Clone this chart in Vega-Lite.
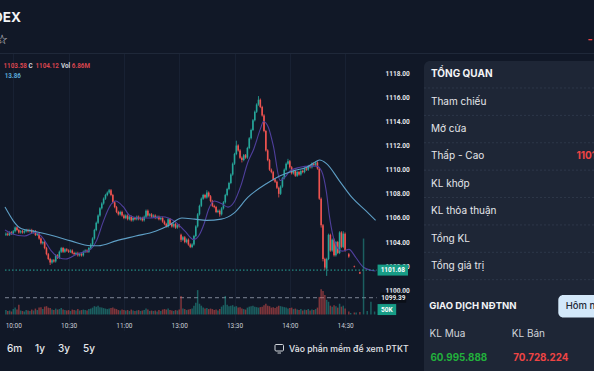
{
"$schema":"https://vega.github.io/schema/vega-lite/v6.json",
"width":594,"height":371,"autosize":{"type":"none"},"padding":0,"background":"#111827",
"config":{"view":{"stroke":null},"axis":{"labelFont":"Roboto","domain":false,"ticks":false},"text":{"font":"Inter"}},
"datasets":{
"candles":[
{"p":56,"o":1104.6,"c":1104.7,"h":1104.8,"l":1104.5,"v":45},
{"p":57,"o":1104.7,"c":1104.6,"h":1104.8,"l":1104.5,"v":35},
{"p":58,"o":1104.6,"c":1104.8,"h":1104.9,"l":1104.5,"v":40},
{"p":59,"o":1104.8,"c":1104.7,"h":1104.9,"l":1104.6,"v":30},
{"p":60,"o":1104.7,"c":1104.9,"h":1105.0,"l":1104.6,"v":55},
{"p":61,"o":1104.9,"c":1105.2,"h":1105.3,"l":1104.8,"v":70},
{"p":62,"o":1105.2,"c":1105.0,"h":1105.3,"l":1104.9,"v":50},
{"p":63,"o":1105.0,"c":1104.8,"h":1105.1,"l":1104.7,"v":100},
{"p":64,"o":1104.8,"c":1104.9,"h":1105.0,"l":1104.7,"v":40},
{"p":65,"o":1104.9,"c":1104.8,"h":1105.0,"l":1104.7,"v":35},
{"p":66,"o":1104.8,"c":1104.9,"h":1105.0,"l":1104.7,"v":30},
{"p":67,"o":1104.9,"c":1105.0,"h":1105.1,"l":1104.8,"v":45},
{"p":68,"o":1105.0,"c":1104.9,"h":1105.1,"l":1104.8,"v":40},
{"p":69,"o":1104.9,"c":1105.0,"h":1105.1,"l":1104.8,"v":35},
{"p":70,"o":1105.0,"c":1104.8,"h":1105.1,"l":1104.7,"v":50},
{"p":71,"o":1104.8,"c":1104.9,"h":1105.0,"l":1104.7,"v":40},
{"p":72,"o":1104.9,"c":1104.6,"h":1105.0,"l":1104.5,"v":60},
{"p":73,"o":1104.6,"c":1104.7,"h":1104.8,"l":1104.5,"v":45},
{"p":74,"o":1104.7,"c":1104.3,"h":1104.8,"l":1104.2,"v":70},
{"p":75,"o":1104.3,"c":1103.9,"h":1104.4,"l":1103.8,"v":75},
{"p":76,"o":1103.9,"c":1104.0,"h":1104.1,"l":1103.8,"v":55},
{"p":77,"o":1104.0,"c":1103.5,"h":1104.1,"l":1103.4,"v":80},
{"p":78,"o":1103.5,"c":1103.0,"h":1103.6,"l":1102.9,"v":85},
{"p":79,"o":1103.0,"c":1102.6,"h":1103.1,"l":1102.5,"v":70},
{"p":80,"o":1102.6,"c":1102.3,"h":1102.7,"l":1102.1,"v":65},
{"p":81,"o":1102.3,"c":1102.5,"h":1102.6,"l":1102.2,"v":50},
{"p":82,"o":1102.5,"c":1102.4,"h":1102.6,"l":1102.3,"v":45},
{"p":83,"o":1102.4,"c":1102.9,"h":1103.0,"l":1102.3,"v":60},
{"p":84,"o":1102.9,"c":1102.7,"h":1103.0,"l":1102.6,"v":50},
{"p":85,"o":1102.7,"c":1103.2,"h":1103.3,"l":1102.6,"v":55},
{"p":86,"o":1103.2,"c":1103.5,"h":1103.6,"l":1103.1,"v":65},
{"p":87,"o":1103.5,"c":1103.2,"h":1103.6,"l":1103.1,"v":50},
{"p":88,"o":1103.2,"c":1103.4,"h":1103.5,"l":1103.1,"v":45},
{"p":89,"o":1103.4,"c":1103.3,"h":1103.5,"l":1103.2,"v":40},
{"p":90,"o":1103.3,"c":1103.2,"h":1103.4,"l":1103.1,"v":45},
{"p":91,"o":1103.2,"c":1103.3,"h":1103.4,"l":1103.1,"v":35},
{"p":92,"o":1103.3,"c":1103.1,"h":1103.4,"l":1103.0,"v":50},
{"p":93,"o":1103.1,"c":1103.0,"h":1103.2,"l":1102.9,"v":45},
{"p":94,"o":1103.0,"c":1103.1,"h":1103.2,"l":1102.9,"v":40},
{"p":95,"o":1103.1,"c":1102.9,"h":1103.2,"l":1102.8,"v":55},
{"p":96,"o":1102.9,"c":1103.0,"h":1103.1,"l":1102.8,"v":40},
{"p":97,"o":1103.0,"c":1102.9,"h":1103.1,"l":1102.8,"v":45},
{"p":98,"o":1102.9,"c":1103.2,"h":1103.3,"l":1102.8,"v":50},
{"p":99,"o":1103.2,"c":1103.3,"h":1103.4,"l":1103.1,"v":45},
{"p":100,"o":1103.3,"c":1103.2,"h":1103.4,"l":1103.1,"v":40},
{"p":101,"o":1103.2,"c":1103.5,"h":1103.6,"l":1103.1,"v":55},
{"p":102,"o":1103.5,"c":1103.8,"h":1103.9,"l":1103.4,"v":60},
{"p":103,"o":1103.8,"c":1104.3,"h":1104.4,"l":1103.7,"v":70},
{"p":104,"o":1104.3,"c":1105.0,"h":1105.1,"l":1104.2,"v":85},
{"p":105,"o":1105.0,"c":1105.6,"h":1105.7,"l":1104.9,"v":80},
{"p":106,"o":1105.6,"c":1106.2,"h":1106.3,"l":1105.5,"v":90},
{"p":107,"o":1106.2,"c":1106.8,"h":1106.9,"l":1106.1,"v":75},
{"p":108,"o":1106.8,"c":1107.2,"h":1107.3,"l":1106.7,"v":70},
{"p":109,"o":1107.2,"c":1107.6,"h":1107.7,"l":1107.1,"v":65},
{"p":110,"o":1107.6,"c":1107.9,"h":1108.0,"l":1107.5,"v":60},
{"p":111,"o":1107.9,"c":1108.1,"h":1108.2,"l":1107.8,"v":55},
{"p":112,"o":1108.1,"c":1108.3,"h":1108.4,"l":1108.0,"v":60},
{"p":113,"o":1108.3,"c":1107.9,"h":1108.4,"l":1107.8,"v":65},
{"p":114,"o":1107.9,"c":1107.3,"h":1108.0,"l":1107.2,"v":70},
{"p":115,"o":1107.3,"c":1106.9,"h":1107.4,"l":1106.8,"v":60},
{"p":116,"o":1106.9,"c":1106.5,"h":1107.0,"l":1106.4,"v":55},
{"p":117,"o":1106.5,"c":1106.3,"h":1106.6,"l":1106.2,"v":45},
{"p":118,"o":1106.3,"c":1106.5,"h":1106.6,"l":1106.2,"v":40},
{"p":119,"o":1106.5,"c":1106.2,"h":1106.6,"l":1106.1,"v":50},
{"p":120,"o":1106.2,"c":1106.0,"h":1106.3,"l":1105.9,"v":45},
{"p":121,"o":1106.0,"c":1106.2,"h":1106.3,"l":1105.9,"v":40},
{"p":122,"o":1106.2,"c":1105.9,"h":1106.3,"l":1105.8,"v":45},
{"p":123,"o":1105.9,"c":1106.1,"h":1106.2,"l":1105.8,"v":35},
{"p":124,"o":1106.1,"c":1105.8,"h":1106.2,"l":1105.7,"v":50},
{"p":125,"o":1105.8,"c":1106.0,"h":1106.1,"l":1105.7,"v":40},
{"p":126,"o":1106.0,"c":1105.9,"h":1106.1,"l":1105.8,"v":35},
{"p":127,"o":1105.9,"c":1106.1,"h":1106.2,"l":1105.8,"v":40},
{"p":128,"o":1106.1,"c":1105.9,"h":1106.2,"l":1105.8,"v":45},
{"p":129,"o":1105.9,"c":1106.0,"h":1106.1,"l":1105.8,"v":35},
{"p":130,"o":1106.0,"c":1105.8,"h":1106.1,"l":1105.7,"v":40},
{"p":131,"o":1105.8,"c":1106.1,"h":1106.2,"l":1105.7,"v":45},
{"p":132,"o":1106.1,"c":1106.6,"h":1106.7,"l":1106.0,"v":60},
{"p":133,"o":1106.6,"c":1106.2,"h":1106.7,"l":1106.1,"v":50},
{"p":134,"o":1106.2,"c":1106.3,"h":1106.4,"l":1106.1,"v":35},
{"p":135,"o":1106.3,"c":1106.1,"h":1106.4,"l":1106.0,"v":40},
{"p":136,"o":1106.1,"c":1106.2,"h":1106.3,"l":1106.0,"v":35},
{"p":137,"o":1106.2,"c":1106.0,"h":1106.3,"l":1105.9,"v":40},
{"p":138,"o":1106.0,"c":1106.1,"h":1106.2,"l":1105.9,"v":30},
{"p":139,"o":1106.1,"c":1105.9,"h":1106.2,"l":1105.8,"v":45},
{"p":140,"o":1105.9,"c":1106.0,"h":1106.1,"l":1105.8,"v":35},
{"p":141,"o":1106.0,"c":1105.7,"h":1106.1,"l":1105.6,"v":50},
{"p":142,"o":1105.7,"c":1105.5,"h":1105.8,"l":1105.4,"v":55},
{"p":143,"o":1105.5,"c":1105.3,"h":1105.6,"l":1105.2,"v":50},
{"p":144,"o":1105.3,"c":1105.9,"h":1106.0,"l":1105.2,"v":60},
{"p":145,"o":1105.9,"c":1105.5,"h":1106.0,"l":1105.4,"v":45},
{"p":146,"o":1105.5,"c":1105.3,"h":1105.6,"l":1105.2,"v":40},
{"p":147,"o":1105.3,"c":1105.5,"h":1105.6,"l":1105.2,"v":35},
{"p":148,"o":1105.5,"c":1105.2,"h":1105.6,"l":1105.1,"v":45},
{"p":149,"o":1105.2,"c":1105.4,"h":1105.5,"l":1105.1,"v":40},
{"p":150,"o":1105.4,"c":1105.3,"h":1105.5,"l":1105.2,"v":50},
{"p":151,"o":1104.6,"c":1104.2,"h":1104.7,"l":1104.0,"v":190},
{"p":152,"o":1104.2,"c":1104.4,"h":1104.5,"l":1104.1,"v":60},
{"p":153,"o":1104.4,"c":1104.0,"h":1104.5,"l":1103.9,"v":55},
{"p":154,"o":1104.0,"c":1104.2,"h":1104.3,"l":1103.9,"v":45},
{"p":155,"o":1104.2,"c":1103.8,"h":1104.3,"l":1103.7,"v":50},
{"p":156,"o":1103.8,"c":1103.6,"h":1103.9,"l":1103.5,"v":55},
{"p":157,"o":1103.6,"c":1103.8,"h":1103.9,"l":1103.5,"v":60},
{"p":158,"o":1103.8,"c":1104.5,"h":1104.6,"l":1103.7,"v":90},
{"p":159,"o":1104.5,"c":1105.3,"h":1105.4,"l":1104.4,"v":120},
{"p":160,"o":1105.3,"c":1106.3,"h":1106.4,"l":1105.2,"v":250},
{"p":161,"o":1106.3,"c":1107.0,"h":1107.1,"l":1106.2,"v":110},
{"p":162,"o":1107.0,"c":1107.6,"h":1107.7,"l":1106.9,"v":90},
{"p":163,"o":1107.6,"c":1107.9,"h":1108.0,"l":1107.5,"v":70},
{"p":164,"o":1107.9,"c":1107.7,"h":1108.0,"l":1107.6,"v":60},
{"p":165,"o":1107.7,"c":1108.1,"h":1108.3,"l":1107.6,"v":65},
{"p":166,"o":1108.1,"c":1107.8,"h":1108.2,"l":1107.7,"v":55},
{"p":167,"o":1107.8,"c":1107.4,"h":1107.9,"l":1107.3,"v":60},
{"p":168,"o":1107.4,"c":1107.0,"h":1107.5,"l":1106.9,"v":55},
{"p":169,"o":1107.0,"c":1106.9,"h":1107.1,"l":1106.8,"v":45},
{"p":170,"o":1106.9,"c":1106.5,"h":1107.0,"l":1106.4,"v":50},
{"p":171,"o":1106.5,"c":1106.6,"h":1106.7,"l":1106.4,"v":40},
{"p":172,"o":1106.6,"c":1106.3,"h":1106.7,"l":1106.1,"v":55},
{"p":173,"o":1106.3,"c":1106.8,"h":1106.9,"l":1106.2,"v":80},
{"p":174,"o":1106.8,"c":1107.3,"h":1107.4,"l":1106.7,"v":95},
{"p":175,"o":1107.3,"c":1107.9,"h":1108.0,"l":1107.2,"v":190},
{"p":176,"o":1107.9,"c":1108.4,"h":1108.5,"l":1107.8,"v":100},
{"p":177,"o":1108.4,"c":1108.9,"h":1109.0,"l":1108.3,"v":85},
{"p":178,"o":1108.9,"c":1109.6,"h":1109.7,"l":1108.8,"v":90},
{"p":179,"o":1109.6,"c":1110.5,"h":1110.6,"l":1109.5,"v":95},
{"p":180,"o":1110.5,"c":1111.3,"h":1111.4,"l":1110.4,"v":80},
{"p":181,"o":1111.3,"c":1112.0,"h":1112.4,"l":1111.2,"v":85},
{"p":182,"o":1112.0,"c":1111.6,"h":1112.1,"l":1111.5,"v":70},
{"p":183,"o":1111.6,"c":1111.0,"h":1111.7,"l":1110.9,"v":75},
{"p":184,"o":1111.0,"c":1110.8,"h":1111.1,"l":1110.6,"v":60},
{"p":185,"o":1110.8,"c":1111.2,"h":1111.3,"l":1110.7,"v":55},
{"p":186,"o":1111.2,"c":1111.0,"h":1111.3,"l":1110.9,"v":50},
{"p":187,"o":1111.0,"c":1111.8,"h":1111.9,"l":1110.9,"v":70},
{"p":188,"o":1111.8,"c":1112.6,"h":1112.7,"l":1111.7,"v":80},
{"p":189,"o":1112.6,"c":1113.3,"h":1113.4,"l":1112.5,"v":85},
{"p":190,"o":1113.3,"c":1114.1,"h":1114.2,"l":1113.2,"v":90},
{"p":191,"o":1114.1,"c":1114.8,"h":1114.9,"l":1114.0,"v":80},
{"p":192,"o":1114.8,"c":1115.4,"h":1115.5,"l":1114.7,"v":75},
{"p":193,"o":1115.4,"c":1115.8,"h":1116.1,"l":1115.3,"v":70},
{"p":194,"o":1115.8,"c":1115.2,"h":1115.9,"l":1115.1,"v":75},
{"p":195,"o":1115.2,"c":1114.5,"h":1115.3,"l":1114.4,"v":80},
{"p":196,"o":1114.5,"c":1113.2,"h":1114.6,"l":1113.1,"v":95},
{"p":197,"o":1113.2,"c":1111.6,"h":1113.3,"l":1111.5,"v":110},
{"p":198,"o":1111.6,"c":1110.8,"h":1111.7,"l":1110.7,"v":90},
{"p":199,"o":1110.8,"c":1110.0,"h":1110.9,"l":1109.9,"v":85},
{"p":200,"o":1110.0,"c":1109.8,"h":1110.1,"l":1109.7,"v":70},
{"p":201,"o":1109.8,"c":1109.2,"h":1109.9,"l":1109.1,"v":75},
{"p":202,"o":1109.2,"c":1109.0,"h":1109.3,"l":1108.9,"v":65},
{"p":203,"o":1109.0,"c":1108.5,"h":1109.1,"l":1108.4,"v":80},
{"p":204,"o":1108.5,"c":1108.0,"h":1108.6,"l":1107.7,"v":90},
{"p":205,"o":1108.0,"c":1108.6,"h":1108.7,"l":1107.9,"v":85},
{"p":206,"o":1108.6,"c":1109.3,"h":1109.4,"l":1108.5,"v":80},
{"p":207,"o":1109.3,"c":1110.0,"h":1110.1,"l":1109.2,"v":75},
{"p":208,"o":1110.0,"c":1110.5,"h":1110.6,"l":1109.9,"v":70},
{"p":209,"o":1110.5,"c":1110.7,"h":1110.9,"l":1110.4,"v":60},
{"p":210,"o":1110.7,"c":1110.2,"h":1110.8,"l":1110.1,"v":65},
{"p":211,"o":1110.2,"c":1109.7,"h":1110.3,"l":1109.6,"v":70},
{"p":212,"o":1109.7,"c":1109.9,"h":1110.0,"l":1109.6,"v":55},
{"p":213,"o":1109.9,"c":1109.5,"h":1110.0,"l":1109.4,"v":60},
{"p":214,"o":1109.5,"c":1109.8,"h":1109.9,"l":1109.4,"v":50},
{"p":215,"o":1109.8,"c":1109.6,"h":1109.9,"l":1109.5,"v":45},
{"p":216,"o":1109.6,"c":1109.9,"h":1110.0,"l":1109.5,"v":55},
{"p":217,"o":1109.9,"c":1109.8,"h":1110.0,"l":1109.7,"v":40},
{"p":218,"o":1109.8,"c":1110.1,"h":1110.2,"l":1109.7,"v":50},
{"p":219,"o":1110.1,"c":1110.0,"h":1110.2,"l":1109.9,"v":45},
{"p":220,"o":1110.0,"c":1110.3,"h":1110.4,"l":1109.9,"v":55},
{"p":221,"o":1110.3,"c":1110.2,"h":1110.4,"l":1110.1,"v":40},
{"p":222,"o":1110.2,"c":1110.5,"h":1110.6,"l":1110.1,"v":50},
{"p":223,"o":1110.5,"c":1110.4,"h":1110.6,"l":1110.3,"v":45},
{"p":224,"o":1110.4,"c":1110.6,"h":1110.7,"l":1110.3,"v":55},
{"p":225,"o":1110.6,"c":1110.1,"h":1110.7,"l":1110.0,"v":70},
{"p":226,"o":1110.1,"c":1107.6,"h":1110.2,"l":1107.5,"v":180},
{"p":227,"o":1107.6,"c":1105.4,"h":1107.7,"l":1105.2,"v":260},
{"p":228,"o":1105.4,"c":1102.6,"h":1105.5,"l":1102.4,"v":240},
{"p":229,"o":1102.6,"c":1101.9,"h":1102.7,"l":1101.7,"v":200},
{"p":230,"o":1101.8,"c":1102.6,"h":1102.7,"l":1101.2,"v":150},
{"p":231,"o":1102.6,"c":1104.6,"h":1104.7,"l":1102.5,"v":130},
{"p":232,"o":1104.6,"c":1103.3,"h":1104.7,"l":1103.2,"v":90},
{"p":233,"o":1103.3,"c":1104.2,"h":1104.3,"l":1103.2,"v":80},
{"p":234,"o":1104.2,"c":1102.9,"h":1104.3,"l":1102.8,"v":95},
{"p":235,"o":1102.9,"c":1104.0,"h":1104.1,"l":1102.8,"v":85},
{"p":236,"o":1104.0,"c":1103.1,"h":1104.1,"l":1103.0,"v":70},
{"p":237,"o":1103.1,"c":1104.8,"h":1104.9,"l":1103.0,"v":110},
{"p":238,"o":1104.8,"c":1103.6,"h":1104.9,"l":1103.5,"v":80},
{"p":239,"o":1103.6,"c":1104.7,"h":1104.9,"l":1103.5,"v":90},
{"p":240,"o":1104.7,"c":1103.3,"h":1104.8,"l":1103.2,"v":60},
{"p":242,"o":1103.0,"c":1102.8,"h":1103.1,"l":1102.7,"v":30},
{"p":243,"v":15},
{"p":245,"o":1102.0,"c":1101.95,"h":1102.05,"l":1101.9,"v":20},
{"p":246,"v":20},
{"p":248,"o":1101.5,"c":1101.4,"h":1101.55,"l":1101.35,"v":25},
{"p":250,"v":780},
{"p":252,"v":35},
{"p":254,"v":130},
{"p":256,"v":30}
],
"ma1":[
{"p":55.5,"m":1105.0},{"p":59.2,"m":1104.7},{"p":66.1,"m":1104.5},{"p":71.5,"m":1104.8},{"p":75.2,"m":1104.5},{"p":80.5,"m":1103.3},{"p":84.8,"m":1102.7},{"p":88.5,"m":1102.6},{"p":94.4,"m":1103.0},{"p":101.9,"m":1103.4},{"p":105.1,"m":1104.1},{"p":108.8,"m":1105.7},{"p":112.5,"m":1107.0},{"p":115.5,"m":1107.4},{"p":119.5,"m":1106.95},{"p":123.2,"m":1106.2},{"p":127.5,"m":1106.0},{"p":133.9,"m":1106.0},{"p":140.8,"m":1106.1},{"p":147.7,"m":1105.7},{"p":153.1,"m":1104.9},{"p":157.9,"m":1104.2},{"p":160.5,"m":1104.5},{"p":163.7,"m":1105.6},{"p":165.9,"m":1106.7},{"p":169.1,"m":1107.4},{"p":172.8,"m":1107.2},{"p":176.5,"m":1106.9},{"p":179.7,"m":1107.3},{"p":183.5,"m":1108.7},{"p":187.2,"m":1110.6},{"p":190.4,"m":1111.7},{"p":194.1,"m":1113.4},{"p":195.7,"m":1114.0},{"p":198.4,"m":1113.5},{"p":201.1,"m":1111.95},{"p":204.8,"m":1109.1},{"p":207.5,"m":1109.4},{"p":210.1,"m":1109.9},{"p":215.5,"m":1110.2},{"p":220.8,"m":1110.3},{"p":224.5,"m":1110.3},{"p":227.2,"m":1109.9},{"p":229.9,"m":1108.1},{"p":231.5,"m":1106.15},{"p":235.2,"m":1103.7},{"p":238.4,"m":1103.25},{"p":242.1,"m":1103.4},{"p":245.9,"m":1102.7},{"p":250.1,"m":1101.9},{"p":256.5,"m":1101.6}
],
"ma2":[
{"p":55.5,"m":1106.9},{"p":64.5,"m":1105.1},{"p":71.5,"m":1104.9},{"p":82.1,"m":1104.5},{"p":91.2,"m":1104.1},{"p":101.9,"m":1103.7},{"p":106.1,"m":1103.7},{"p":115.7,"m":1104.1},{"p":126.4,"m":1104.5},{"p":137.1,"m":1104.9},{"p":144.5,"m":1105.4},{"p":151.5,"m":1106.0},{"p":158.4,"m":1105.9},{"p":164.8,"m":1105.8},{"p":172.8,"m":1105.9},{"p":179.7,"m":1106.4},{"p":187.2,"m":1107.7},{"p":197.9,"m":1108.9},{"p":204.8,"m":1109.5},{"p":211.7,"m":1109.9},{"p":219.2,"m":1110.2},{"p":224.5,"m":1110.7},{"p":226.1,"m":1110.8},{"p":229.9,"m":1110.5},{"p":236.8,"m":1109.1},{"p":243.7,"m":1107.7},{"p":251.2,"m":1106.6},{"p":256.5,"m":1105.8}
],
"ov":[
{"k":"TỔNG QUAN"},{"k":"Tham chiếu"},{"k":"Mở cửa"},{"k":"Thấp - Cao","v":"1101.20 - 1116.10"},{"k":"KL khớp"},{"k":"KL thỏa thuận"},{"k":"Tổng KL"},{"k":"Tổng giá trị"}
]
},
"layer":[
{"layer":[
 {"layer":[
  {"data":{"name":"candles"},"transform":[{"filter":"isValid(datum.o)"}],"mark":{"type":"rule","strokeWidth":0.8},
   "encoding":{
    "x":{"field":"p","type":"quantitative","scale":{"domain":[55.5,372.3],"nice":false,"zero":false},"title":null,
     "axis":{"orient":"bottom","offset":-52,"values":[60,90,120,150,180,210,240],"labelExpr":"timeFormat(datetime(2024,0,1,9,datum.value + (datum.value >= 150 ? 90 : 0)), '%H:%M')","grid":true,"gridColor":"#182133","labelPadding":3,"labelFlush":false,"labelOverlap":false,"labelColor":"#c9ced6","labelFontSize":6.5,"title":null}},
    "y":{"field":"l","type":"quantitative","scale":{"domain":[1093.73,1123.65],"nice":false,"zero":false},"title":null,
     "axis":{"orient":"right","offset":-209,"values":[1100,1102,1104,1106,1108,1110,1112,1114,1116,1118],"format":".2f","labelPadding":0,"labelColor":"#e5e7eb","labelFontSize":6.5,"labelFontWeight":"bold","grid":false,"title":null}},
    "y2":{"field":"h"},
    "color":{"condition":{"test":"datum.c >= datum.o","value":"#26a69a"},"value":"#ef5350"}}},
  {"data":{"name":"candles"},"transform":[{"filter":"isValid(datum.o)"}],"mark":{"type":"bar","size":1.6},
   "encoding":{
    "x":{"field":"p","type":"quantitative","scale":{"domain":[55.5,372.3],"nice":false,"zero":false},"title":null},
    "y":{"field":"o","type":"quantitative","scale":{"domain":[1093.73,1123.65],"nice":false,"zero":false},"title":null},
    "y2":{"field":"c"},
    "color":{"condition":{"test":"datum.c >= datum.o","value":"#26a69a"},"value":"#ef5350"}}},
  {"data":{"name":"ma1"},"mark":{"type":"line","color":"#4f3f9c","strokeWidth":1.1,"interpolate":"monotone"},
   "encoding":{
    "x":{"field":"p","type":"quantitative","scale":{"domain":[55.5,372.3],"nice":false,"zero":false},"title":null},
    "y":{"field":"m","type":"quantitative","scale":{"domain":[1093.73,1123.65],"nice":false,"zero":false},"title":null}}},
  {"data":{"name":"ma2"},"mark":{"type":"line","color":"#5e9fc6","strokeWidth":1.1,"interpolate":"monotone"},
   "encoding":{
    "x":{"field":"p","type":"quantitative","scale":{"domain":[55.5,372.3],"nice":false,"zero":false},"title":null},
    "y":{"field":"m","type":"quantitative","scale":{"domain":[1093.73,1123.65],"nice":false,"zero":false},"title":null}}},
  {"data":{"values":[{"price":1101.68}]},"mark":{"type":"rule","color":"#26a69a","strokeDash":[1.5,2],"strokeWidth":1},
   "encoding":{
    "x":{"datum":55.5,"scale":{"domain":[55.5,372.3],"nice":false,"zero":false}},"x2":{"datum":257.1},
    "y":{"field":"price","type":"quantitative","scale":{"domain":[1093.73,1123.65],"nice":false,"zero":false},"title":null}}},
  {"data":{"values":[{"price":1099.39}]},"mark":{"type":"rule","color":"#7d8594","strokeDash":[4,3],"strokeWidth":1},
   "encoding":{
    "x":{"datum":55.5,"scale":{"domain":[55.5,372.3],"nice":false,"zero":false}},"x2":{"datum":257.1},
    "y":{"field":"price","type":"quantitative","scale":{"domain":[1093.73,1123.65],"nice":false,"zero":false},"title":null}}},
  {"data":{"values":[{"price":1101.68,"label":"1101.68"}]},"mark":{"type":"bar","size":11,"color":"#179c86"},
   "encoding":{
    "x":{"datum":257.6,"scale":{"domain":[55.5,372.3],"nice":false,"zero":false}},"x2":{"datum":274.1},
    "y":{"field":"price","type":"quantitative","scale":{"domain":[1093.73,1123.65],"nice":false,"zero":false},"title":null}}},
  {"data":{"values":[{"price":1101.68,"label":"1101.68"}]},"mark":{"type":"text","font":"Roboto","fontSize":6.5,"fontWeight":"bold","color":"#ffffff","align":"center","baseline":"middle"},
   "encoding":{
    "x":{"datum":265.85,"scale":{"domain":[55.5,372.3],"nice":false,"zero":false}},
    "y":{"field":"price","type":"quantitative","scale":{"domain":[1093.73,1123.65],"nice":false,"zero":false},"title":null},
    "text":{"field":"label"}}},
  {"data":{"values":[{"price":1099.39,"label":"1099.39"}]},"mark":{"type":"bar","size":10,"color":"#0b0f18"},
   "encoding":{
    "x":{"datum":259.2,"scale":{"domain":[55.5,372.3],"nice":false,"zero":false}},"x2":{"datum":273.1},
    "y":{"field":"price","type":"quantitative","scale":{"domain":[1093.73,1123.65],"nice":false,"zero":false},"title":null}}},
  {"data":{"values":[{"price":1099.39,"label":"1099.39"}]},"mark":{"type":"text","font":"Roboto","fontSize":6.5,"fontWeight":"bold","color":"#e5e7eb","align":"center","baseline":"middle"},
   "encoding":{
    "x":{"datum":266.15,"scale":{"domain":[55.5,372.3],"nice":false,"zero":false}},
    "y":{"field":"price","type":"quantitative","scale":{"domain":[1093.73,1123.65],"nice":false,"zero":false},"title":null},
    "text":{"field":"label"}}},
  {"data":{"values":[{"t":"1103.58"}]},"mark":{"type":"text","font":"Roboto","fontSize":6.3,"fontWeight":"bold","color":"#d9454e","align":"left","baseline":"middle"},
   "encoding":{"x":{"datum":54.67,"scale":{"domain":[55.5,372.3],"nice":false,"zero":false}},"y":{"datum":1118.59,"scale":{"domain":[1093.73,1123.65],"nice":false,"zero":false}},"text":{"field":"t"}}},
  {"data":{"values":[{"t":"C"}]},"mark":{"type":"text","font":"Roboto","fontSize":6.3,"fontWeight":"bold","color":"#d1d5db","align":"left","baseline":"middle"},
   "encoding":{"x":{"datum":68.27,"scale":{"domain":[55.5,372.3],"nice":false,"zero":false}},"y":{"datum":1118.59,"scale":{"domain":[1093.73,1123.65],"nice":false,"zero":false}},"text":{"field":"t"}}},
  {"data":{"values":[{"t":"1104.12"}]},"mark":{"type":"text","font":"Roboto","fontSize":6.3,"fontWeight":"bold","color":"#d9454e","align":"left","baseline":"middle"},
   "encoding":{"x":{"datum":72.0,"scale":{"domain":[55.5,372.3],"nice":false,"zero":false}},"y":{"datum":1118.59,"scale":{"domain":[1093.73,1123.65],"nice":false,"zero":false}},"text":{"field":"t"}}},
  {"data":{"values":[{"t":"Vol"}]},"mark":{"type":"text","font":"Roboto","fontSize":6.3,"fontWeight":"bold","color":"#d1d5db","align":"left","baseline":"middle"},
   "encoding":{"x":{"datum":85.87,"scale":{"domain":[55.5,372.3],"nice":false,"zero":false}},"y":{"datum":1118.59,"scale":{"domain":[1093.73,1123.65],"nice":false,"zero":false}},"text":{"field":"t"}}},
  {"data":{"values":[{"t":"6.86M"}]},"mark":{"type":"text","font":"Roboto","fontSize":6.3,"fontWeight":"bold","color":"#d9454e","align":"left","baseline":"middle"},
   "encoding":{"x":{"datum":91.73,"scale":{"domain":[55.5,372.3],"nice":false,"zero":false}},"y":{"datum":1118.59,"scale":{"domain":[1093.73,1123.65],"nice":false,"zero":false}},"text":{"field":"t"}}},
  {"data":{"values":[{"t":"13.86"}]},"mark":{"type":"text","font":"Roboto","fontSize":6.3,"fontWeight":"bold","color":"#5aa7d6","align":"left","baseline":"middle"},
   "encoding":{"x":{"datum":55.3,"scale":{"domain":[55.5,372.3],"nice":false,"zero":false}},"y":{"datum":1117.79,"scale":{"domain":[1093.73,1123.65],"nice":false,"zero":false}},"text":{"field":"t"}}}
 ]},
 {"layer":[
  {"data":{"name":"candles"},"mark":{"type":"bar","size":1.5,"opacity":0.5},
   "encoding":{
    "x":{"field":"p","type":"quantitative","scale":{"domain":[55.5,372.3],"nice":false,"zero":false},"title":null},
    "y":{"field":"v","type":"quantitative","scale":{"domain":[-530,3180],"nice":false,"zero":false},"axis":null},
    "y2":{"datum":0},
    "color":{"condition":{"test":"!isValid(datum.o) || datum.c >= datum.o","value":"#26a69a"},"value":"#ef5350"}}},
  {"data":{"values":[{"v":50,"label":"50K"}]},"mark":{"type":"bar","size":11,"color":"#179c86"},
   "encoding":{
    "x":{"datum":257.6,"scale":{"domain":[55.5,372.3],"nice":false,"zero":false}},"x2":{"datum":267.7},
    "y":{"field":"v","type":"quantitative","scale":{"domain":[-530,3180],"nice":false,"zero":false},"axis":null}}},
  {"data":{"values":[{"v":50,"label":"50K"}]},"mark":{"type":"text","font":"Roboto","fontSize":6.5,"fontWeight":"bold","color":"#ffffff","align":"center","baseline":"middle"},
   "encoding":{
    "x":{"datum":262.65,"scale":{"domain":[55.5,372.3],"nice":false,"zero":false}},
    "y":{"field":"v","type":"quantitative","scale":{"domain":[-530,3180],"nice":false,"zero":false},"axis":null},
    "text":{"field":"label"}}}
 ]}
],
"resolve":{"scale":{"y":"independent"}}},
{"layer":[
 {"data":{"values":[{}]},"mark":{"type":"rect","fill":"#111827"},
  "encoding":{"x":{"datum":0,"scale":{"domain":[0,594],"nice":false,"zero":false},"axis":null},"x2":{"datum":594},"y":{"datum":0,"scale":{"domain":[0,371],"nice":false,"zero":false,"reverse":true},"axis":null},"y2":{"datum":53}}},
 {"data":{"values":[{}]},"mark":{"type":"rect","fill":"#111827"},
  "encoding":{"x":{"datum":0,"scale":{"domain":[0,594],"nice":false,"zero":false},"axis":null},"x2":{"datum":424},"y":{"datum":331,"scale":{"domain":[0,371],"nice":false,"zero":false,"reverse":true},"axis":null},"y2":{"datum":371}}},
 {"data":{"values":[{}]},"mark":{"type":"rule","stroke":"#1f2839","strokeWidth":1},
  "encoding":{"x":{"datum":0,"scale":{"domain":[0,594],"nice":false,"zero":false},"axis":null},"x2":{"datum":594},"y":{"datum":53.5,"scale":{"domain":[0,371],"nice":false,"zero":false,"reverse":true},"axis":null}}},
 {"data":{"values":[{}]},"mark":{"type":"rect","fill":"#1e2636","cornerRadius":6},
  "encoding":{"x":{"datum":424,"scale":{"domain":[0,594],"nice":false,"zero":false},"axis":null},"x2":{"datum":620},"y":{"datum":61,"scale":{"domain":[0,371],"nice":false,"zero":false,"reverse":true},"axis":null},"y2":{"datum":400}}},
 {"data":{"values":[{"t":"DEX"}]},"mark":{"type":"text","align":"right","baseline":"middle","fontSize":13.5,"fontWeight":"bold","color":"#f3f4f6"},
  "encoding":{"x":{"datum":21,"scale":{"domain":[0,594],"nice":false,"zero":false},"axis":null},"y":{"datum":17.5,"scale":{"domain":[0,371],"nice":false,"zero":false,"reverse":true},"axis":null},"text":{"field":"t"}}},
 {"data":{"values":[{"t":"☆"}]},"mark":{"type":"text","align":"right","baseline":"middle","fontSize":13,"font":"DejaVu Sans","color":"#e5e7eb"},
  "encoding":{"x":{"datum":8,"scale":{"domain":[0,594],"nice":false,"zero":false},"axis":null},"y":{"datum":40,"scale":{"domain":[0,371],"nice":false,"zero":false,"reverse":true},"axis":null},"text":{"field":"t"}}},
 {"data":{"values":[{"t":"-"}]},"mark":{"type":"text","align":"left","baseline":"middle","fontSize":11,"fontWeight":"bold","color":"#ef4444"},
  "encoding":{"x":{"datum":587.5,"scale":{"domain":[0,594],"nice":false,"zero":false},"axis":null},"y":{"datum":39.5,"scale":{"domain":[0,371],"nice":false,"zero":false,"reverse":true},"axis":null},"text":{"field":"t"}}},
 {"data":{"values":[{"t":"6m"}]},"mark":{"type":"text","align":"left","baseline":"middle","fontSize":10,"fontWeight":500,"color":"#e5e7eb"},
  "encoding":{"x":{"datum":7,"scale":{"domain":[0,594],"nice":false,"zero":false},"axis":null},"y":{"datum":349,"scale":{"domain":[0,371],"nice":false,"zero":false,"reverse":true},"axis":null},"text":{"field":"t"}}},
 {"data":{"values":[{"t":"1y"}]},"mark":{"type":"text","align":"left","baseline":"middle","fontSize":10,"fontWeight":500,"color":"#e5e7eb"},
  "encoding":{"x":{"datum":35,"scale":{"domain":[0,594],"nice":false,"zero":false},"axis":null},"y":{"datum":349,"scale":{"domain":[0,371],"nice":false,"zero":false,"reverse":true},"axis":null},"text":{"field":"t"}}},
 {"data":{"values":[{"t":"3y"}]},"mark":{"type":"text","align":"left","baseline":"middle","fontSize":10,"fontWeight":500,"color":"#e5e7eb"},
  "encoding":{"x":{"datum":58,"scale":{"domain":[0,594],"nice":false,"zero":false},"axis":null},"y":{"datum":349,"scale":{"domain":[0,371],"nice":false,"zero":false,"reverse":true},"axis":null},"text":{"field":"t"}}},
 {"data":{"values":[{"t":"5y"}]},"mark":{"type":"text","align":"left","baseline":"middle","fontSize":10,"fontWeight":500,"color":"#e5e7eb"},
  "encoding":{"x":{"datum":83,"scale":{"domain":[0,594],"nice":false,"zero":false},"axis":null},"y":{"datum":349,"scale":{"domain":[0,371],"nice":false,"zero":false,"reverse":true},"axis":null},"text":{"field":"t"}}},
 {"data":{"values":[{}]},"mark":{"type":"rect","fill":null,"stroke":"#d1d5db","strokeWidth":1,"cornerRadius":1},
  "encoding":{"x":{"datum":275,"scale":{"domain":[0,594],"nice":false,"zero":false},"axis":null},"x2":{"datum":283.5},"y":{"datum":344.5,"scale":{"domain":[0,371],"nice":false,"zero":false,"reverse":true},"axis":null},"y2":{"datum":351}}},
 {"data":{"values":[{}]},"mark":{"type":"rule","stroke":"#d1d5db","strokeWidth":1},
  "encoding":{"x":{"datum":277.5,"scale":{"domain":[0,594],"nice":false,"zero":false},"axis":null},"x2":{"datum":281},"y":{"datum":353,"scale":{"domain":[0,371],"nice":false,"zero":false,"reverse":true},"axis":null}}},
 {"data":{"values":[{"t":"Vào phần mềm để xem PTKT"}]},"mark":{"type":"text","align":"left","baseline":"middle","fontSize":8.7,"fontWeight":500,"color":"#e5e7eb"},
  "encoding":{"x":{"datum":289,"scale":{"domain":[0,594],"nice":false,"zero":false},"axis":null},"y":{"datum":349,"scale":{"domain":[0,371],"nice":false,"zero":false,"reverse":true},"axis":null},"text":{"field":"t"}}},
 {"data":{"values":[{"t":"GIAO DỊCH NĐTNN"}]},"mark":{"type":"text","align":"left","baseline":"middle","fontSize":9.5,"fontWeight":"bold","color":"#f3f4f6"},
  "encoding":{"x":{"datum":429.3,"scale":{"domain":[0,594],"nice":false,"zero":false},"axis":null},"y":{"datum":306,"scale":{"domain":[0,371],"nice":false,"zero":false,"reverse":true},"axis":null},"text":{"field":"t"}}},
 {"data":{"values":[{}]},"mark":{"type":"rect","fill":"#d3e8fa","cornerRadius":5},
  "encoding":{"x":{"datum":558.3,"scale":{"domain":[0,594],"nice":false,"zero":false},"axis":null},"x2":{"datum":620},"y":{"datum":295,"scale":{"domain":[0,371],"nice":false,"zero":false,"reverse":true},"axis":null},"y2":{"datum":317.5}}},
 {"data":{"values":[{"t":"Hôm nay"}]},"mark":{"type":"text","align":"left","baseline":"middle","fontSize":9.5,"fontWeight":500,"color":"#1f2937"},
  "encoding":{"x":{"datum":565.7,"scale":{"domain":[0,594],"nice":false,"zero":false},"axis":null},"y":{"datum":306.3,"scale":{"domain":[0,371],"nice":false,"zero":false,"reverse":true},"axis":null},"text":{"field":"t"}}},
 {"data":{"values":[{"t":"KL Mua"}]},"mark":{"type":"text","align":"left","baseline":"middle","fontSize":10,"color":"#d1d5db"},
  "encoding":{"x":{"datum":429.5,"scale":{"domain":[0,594],"nice":false,"zero":false},"axis":null},"y":{"datum":334.3,"scale":{"domain":[0,371],"nice":false,"zero":false,"reverse":true},"axis":null},"text":{"field":"t"}}},
 {"data":{"values":[{"t":"KL Bán"}]},"mark":{"type":"text","align":"left","baseline":"middle","fontSize":10,"color":"#d1d5db"},
  "encoding":{"x":{"datum":511.7,"scale":{"domain":[0,594],"nice":false,"zero":false},"axis":null},"y":{"datum":334.3,"scale":{"domain":[0,371],"nice":false,"zero":false,"reverse":true},"axis":null},"text":{"field":"t"}}},
 {"data":{"values":[{"t":"60.995.888"}]},"mark":{"type":"text","align":"left","baseline":"middle","fontSize":9.8,"fontWeight":"bold","color":"#22b03c"},
  "encoding":{"x":{"datum":430.5,"scale":{"domain":[0,594],"nice":false,"zero":false},"axis":null},"y":{"datum":357.7,"scale":{"domain":[0,371],"nice":false,"zero":false,"reverse":true},"axis":null},"text":{"field":"t"}}},
 {"data":{"values":[{"t":"70.728.224"}]},"mark":{"type":"text","align":"left","baseline":"middle","fontSize":9.8,"fontWeight":"bold","color":"#ef4444"},
  "encoding":{"x":{"datum":513.3,"scale":{"domain":[0,594],"nice":false,"zero":false},"axis":null},"y":{"datum":357.7,"scale":{"domain":[0,371],"nice":false,"zero":false,"reverse":true},"axis":null},"text":{"field":"t"}}}
]},
{"data":{"name":"ov"},"layer":[
 {"mark":{"type":"rule","color":"#2d3749","strokeDash":[2,2],"strokeWidth":1},
  "encoding":{"x":{"datum":424,"scale":{"domain":[0,594],"nice":false,"zero":false},"axis":null},"x2":{"datum":594},
   "y":{"field":"k","type":"nominal","bandPosition":1,"scale":{"type":"band","domain":["TỔNG QUAN","Tham chiếu","Mở cửa","Thấp - Cao","KL khớp","KL thỏa thuận","Tổng KL","Tổng giá trị"],"range":[60.6,279.7],"paddingInner":0,"paddingOuter":0},"axis":null}}},
 {"transform":[{"filter":"datum.k == 'TỔNG QUAN'"}],"mark":{"type":"text","align":"left","baseline":"middle","fontSize":10,"fontWeight":"bold","color":"#f3f4f6"},
  "encoding":{"x":{"datum":431,"scale":{"domain":[0,594],"nice":false,"zero":false},"axis":null},
   "y":{"field":"k","type":"nominal","scale":{"type":"band","domain":["TỔNG QUAN","Tham chiếu","Mở cửa","Thấp - Cao","KL khớp","KL thỏa thuận","Tổng KL","Tổng giá trị"],"range":[60.6,279.7],"paddingInner":0,"paddingOuter":0},"axis":null},
   "text":{"field":"k"}}},
 {"transform":[{"filter":"datum.k != 'TỔNG QUAN'"}],"mark":{"type":"text","align":"left","baseline":"middle","fontSize":10,"color":"#e5e7eb"},
  "encoding":{"x":{"datum":431,"scale":{"domain":[0,594],"nice":false,"zero":false},"axis":null},
   "y":{"field":"k","type":"nominal","scale":{"type":"band","domain":["TỔNG QUAN","Tham chiếu","Mở cửa","Thấp - Cao","KL khớp","KL thỏa thuận","Tổng KL","Tổng giá trị"],"range":[60.6,279.7],"paddingInner":0,"paddingOuter":0},"axis":null},
   "text":{"field":"k"}}},
 {"transform":[{"filter":"isValid(datum.v)"}],"mark":{"type":"text","align":"left","baseline":"middle","fontSize":10,"fontWeight":"bold","color":"#ef4444"},
  "encoding":{"x":{"datum":576.5,"scale":{"domain":[0,594],"nice":false,"zero":false},"axis":null},
   "y":{"field":"k","type":"nominal","scale":{"type":"band","domain":["TỔNG QUAN","Tham chiếu","Mở cửa","Thấp - Cao","KL khớp","KL thỏa thuận","Tổng KL","Tổng giá trị"],"range":[60.6,279.7],"paddingInner":0,"paddingOuter":0},"axis":null},
   "text":{"field":"v"}}}
]}
],
"resolve":{"scale":{"x":"independent","y":"independent"}}
}
